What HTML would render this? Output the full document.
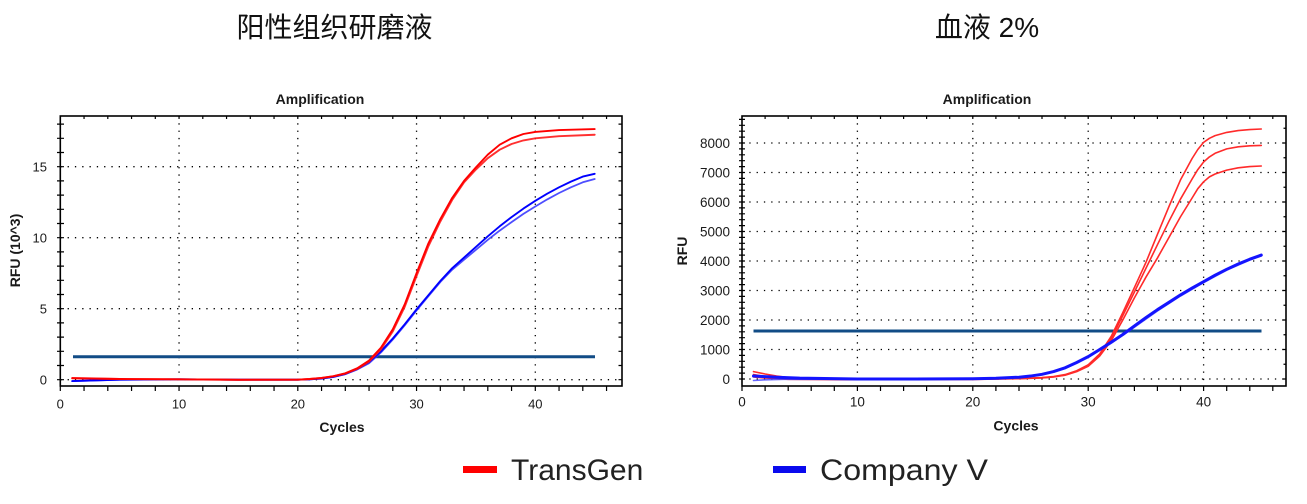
<!DOCTYPE html>
<html><head><meta charset="utf-8"><style>
html,body{margin:0;padding:0;background:#fff;}
svg{display:block;}
</style></head><body>
<svg width="1307" height="504" viewBox="0 0 1307 504" xmlns="http://www.w3.org/2000/svg">
<rect width="1307" height="504" fill="#fff"/>
<!-- Titles -->
<text x="334.5" y="37" font-family="Liberation Sans, Noto Sans CJK SC, sans-serif" font-size="28" text-anchor="middle" fill="#111">阳性组织研磨液</text>
<text x="987" y="37" font-family="Liberation Sans, Noto Sans CJK SC, sans-serif" font-size="28" text-anchor="middle" fill="#111">血液 2%</text>

<g font-family="Liberation Sans, Arial, sans-serif" fill="#1a1a1a">
<text x="320" y="104" font-size="14" font-weight="bold" text-anchor="middle">Amplification</text>
<text x="987" y="104" font-size="14" font-weight="bold" text-anchor="middle">Amplification</text>
<text x="342" y="432" font-size="14" font-weight="bold" text-anchor="middle">Cycles</text>
<text x="1016" y="430.5" font-size="14" font-weight="bold" text-anchor="middle">Cycles</text>
<text transform="translate(20,250.5) rotate(-90)" font-size="14" font-weight="bold" text-anchor="middle">RFU (10^3)</text>
<text transform="translate(687,251) rotate(-90)" font-size="14" font-weight="bold" text-anchor="middle">RFU</text>

<!-- left tick labels -->
<g font-size="13" text-anchor="end">
<text x="47" y="384.4">0</text>
<text x="47" y="313.4">5</text>
<text x="47" y="242.4">10</text>
<text x="47" y="171.4">15</text>
</g>
<g font-size="13" text-anchor="middle">
<text x="60.3" y="408.3">0</text>
<text x="179.05" y="408.3">10</text>
<text x="297.8" y="408.3">20</text>
<text x="416.55" y="408.3">30</text>
<text x="535.3" y="408.3">40</text>
</g>
<!-- right tick labels -->
<g font-size="13.5" text-anchor="end">
<text x="730" y="383.8">0</text>
<text x="730" y="354.3">1000</text>
<text x="730" y="324.8">2000</text>
<text x="730" y="295.3">3000</text>
<text x="730" y="265.8">4000</text>
<text x="730" y="236.3">5000</text>
<text x="730" y="206.8">6000</text>
<text x="730" y="177.3">7000</text>
<text x="730" y="147.8">8000</text>
</g>
<g font-size="13.5" text-anchor="middle">
<text x="742" y="406.7">0</text>
<text x="857.4" y="406.7">10</text>
<text x="972.8" y="406.7">20</text>
<text x="1088.2" y="406.7">30</text>
<text x="1203.6" y="406.7">40</text>
</g>
</g>

<!-- Grids (dotted) -->
<g stroke="#000" stroke-width="1.3" stroke-dasharray="1.3 6" fill="none">
<path d="M179.05 116V386M297.8 116V386M416.55 116V386M535.3 116V386"/>
<path d="M60.3 379.7H622M60.3 308.7H622M60.3 237.7H622M60.3 166.7H622"/>
<path d="M857.4 116V386M972.8 116V386M1088.2 116V386M1203.6 116V386"/>
<path d="M742 379H1286M742 349.5H1286M742 320H1286M742 290.5H1286M742 261H1286M742 231.5H1286M742 202H1286M742 172.5H1286M742 143H1286"/>
</g>

<!-- Frames -->
<g stroke="#000" fill="none">
<rect x="60.3" y="116" width="561.7" height="270" stroke-width="1.6"/>
<rect x="742" y="116" width="544" height="270" stroke-width="1.6"/>
</g>

<!-- Ticks -->
<g stroke="#000" stroke-width="1.2" fill="none">
<path d="M57 379.7H64M57 365.5H64M57 351.3H64M57 337.1H64M57 322.9H64M57 308.7H64M57 294.5H64M57 280.3H64M57 266.1H64M57 251.9H64M57 237.7H64M57 223.5H64M57 209.3H64M57 195.1H64M57 180.9H64M57 166.7H64M57 152.5H64M57 138.3H64M57 124.1H64"/>
<path d="M618.5 379.7H622M618.5 365.5H622M618.5 351.3H622M618.5 337.1H622M618.5 322.9H622M618.5 308.7H622M618.5 294.5H622M618.5 280.3H622M618.5 266.1H622M618.5 251.9H622M618.5 237.7H622M618.5 223.5H622M618.5 209.3H622M618.5 195.1H622M618.5 180.9H622M618.5 166.7H622M618.5 152.5H622M618.5 138.3H622M618.5 124.1H622"/>
<path d="M60.3 386V391M84.05 386V391M107.8 386V391M131.55 386V391M155.3 386V391M179.05 386V391M202.8 386V391M226.55 386V391M250.3 386V391M274.05 386V391M297.8 386V391M321.55 386V391M345.3 386V391M369.05 386V391M392.8 386V391M416.55 386V391M440.3 386V391M464.05 386V391M487.8 386V391M511.55 386V391M535.3 386V391M559.05 386V391M582.8 386V391M606.55 386V391"/>
<path d="M84.05 116V119M107.8 116V119M131.55 116V119M155.3 116V119M179.05 116V119M202.8 116V119M226.55 116V119M250.3 116V119M274.05 116V119M297.8 116V119M321.55 116V119M345.3 116V119M369.05 116V119M392.8 116V119M416.55 116V119M440.3 116V119M464.05 116V119M487.8 116V119M511.55 116V119M535.3 116V119M559.05 116V119M582.8 116V119M606.55 116V119"/>

<path d="M739 379H745M739 373.1H745M739 367.2H745M739 361.3H745M739 355.4H745M739 349.5H745M739 343.6H745M739 337.7H745M739 331.8H745M739 325.9H745M739 320H745M739 314.1H745M739 308.2H745M739 302.3H745M739 296.4H745M739 290.5H745M739 284.6H745M739 278.7H745M739 272.8H745M739 266.9H745M739 261H745M739 255.1H745M739 249.2H745M739 243.3H745M739 237.4H745M739 231.5H745M739 225.6H745M739 219.7H745M739 213.8H745M739 207.9H745M739 202H745M739 196.1H745M739 190.2H745M739 184.3H745M739 178.4H745M739 172.5H745M739 166.6H745M739 160.7H745M739 154.8H745M739 148.9H745M739 143H745M739 137.1H745M739 131.2H745M739 125.3H745M739 119.4H745"/>
<path d="M1282.5 379H1286M1282.5 349.5H1286M1282.5 320H1286M1282.5 290.5H1286M1282.5 261H1286M1282.5 231.5H1286M1282.5 202H1286M1282.5 172.5H1286M1282.5 143H1286M1283.5 364.25H1286M1283.5 334.75H1286M1283.5 305.25H1286M1283.5 275.75H1286M1283.5 246.25H1286M1283.5 216.75H1286M1283.5 187.25H1286M1283.5 157.75H1286M1283.5 128.25H1286"/>
<path d="M742 386V391M765.1 386V391M788.2 386V391M811.2 386V391M834.3 386V391M857.4 386V391M880.5 386V391M903.6 386V391M926.6 386V391M949.7 386V391M972.8 386V391M995.9 386V391M1019 386V391M1042 386V391M1065.1 386V391M1088.2 386V391M1111.3 386V391M1134.4 386V391M1157.4 386V391M1180.5 386V391M1203.6 386V391M1226.7 386V391M1249.8 386V391M1272.8 386V391"/>
<path d="M765.1 116V119M788.2 116V119M811.2 116V119M834.3 116V119M857.4 116V119M880.5 116V119M903.6 116V119M926.6 116V119M949.7 116V119M972.8 116V119M995.9 116V119M1019 116V119M1042 116V119M1065.1 116V119M1088.2 116V119M1111.3 116V119M1134.4 116V119M1157.4 116V119M1180.5 116V119M1203.6 116V119M1226.7 116V119M1249.8 116V119M1272.8 116V119"/>
</g>

<!-- Threshold lines -->
<path d="M73 356.7H595" stroke="#124c86" stroke-width="3" fill="none"/>
<path d="M753.5 331H1261.5" stroke="#124c86" stroke-width="3" fill="none"/>

<!-- Left chart curves -->
<g fill="none" stroke-linejoin="round" stroke-linecap="round">
<polyline stroke="#3b3bff" stroke-width="1.8" opacity="0.9" points="72.2,381.1 119.7,379.7 179.05,379.3 238.4,379.7 297.8,379.7 309.7,379.3 321.55,378.6 333.4,376.9 345.3,374.2 357.2,369.5 369.05,363.2 380.9,352.5 392.8,339.5 404.7,325.3 416.55,310.4 428.4,296.2 440.3,282.0 452.2,269.65 464.05,259.7 475.9,249.8 487.8,239.8 499.7,230.6 511.55,222.1 523.4,213.9 535.3,206.5 547.2,199.4 559.05,193.0 570.9,187.3 582.8,182.3 594.7,179.05"/>
<polyline stroke="#0000ff" stroke-width="1.9" points="72.2,381.1 119.7,379.7 179.05,379.3 238.4,379.7 297.8,379.7 309.7,379.3 321.55,378.6 333.4,376.9 345.3,374.0 357.2,369.05 369.05,362.0 380.9,351.3 392.8,338.5 404.7,324.3 416.55,309.4 428.4,295.2 440.3,281.0 452.2,268.2 464.05,257.6 475.9,246.9 487.8,236.3 499.7,226.3 511.55,217.1 523.4,208.6 535.3,200.8 547.2,193.7 559.05,187.3 570.9,181.6 582.8,176.6 594.7,173.8"/>
<polyline stroke="#ff1a1a" stroke-width="1.9" opacity="0.9" points="72.2,378.0 119.7,379.0 179.05,379.3 238.4,379.9 297.8,379.7 309.7,379.0 321.55,378.0 333.4,376.3 345.3,373.6 357.2,368.9 369.05,361.6 380.9,349.3 392.8,331.3 404.7,306.8 416.55,276.0 428.4,246.2 440.3,221.5 452.2,199.9 464.05,182.3 475.9,169.5 487.8,158.2 499.7,149.7 511.55,144.0 523.4,140.4 535.3,138.3 559.05,136.2 594.7,134.75"/>
<polyline stroke="#ff0000" stroke-width="1.9" points="72.2,378.3 119.7,379.0 179.05,379.3 238.4,379.7 297.8,379.7 309.7,379.0 321.55,378.0 333.4,376.15 345.3,373.3 357.2,368.3 369.05,360.5 380.9,347.75 392.8,329.3 404.7,304.4 416.55,273.2 428.4,243.4 440.3,219.2 452.2,197.9 464.05,180.9 475.9,167.4 487.8,154.6 499.7,144.7 511.55,138.3 523.4,134.0 535.3,131.9 559.05,130.1 594.7,129.1"/>
</g>

<!-- Right chart curves -->
<g fill="none" stroke-linejoin="round" stroke-linecap="round">
<polyline stroke="#ff2a2a" stroke-width="1.6" points="753.5,371.6 765.1,374.0 776.6,376.05 788.2,377.5 811.2,379 857.4,379.6 915.1,379.3 972.8,379 1019.0,378.4 1030.5,378.1 1042.0,377.5 1053.6,376.6 1065.1,374.6 1076.7,370.7 1088.2,364.8 1099.7,353.9 1111.3,336.2 1122.8,312.6 1134.4,287.55 1145.9,262.5 1157.4,234.45 1169.0,206.4 1180.5,179.9 1192.1,158.5 1197.8,149.5 1203.6,142.4 1209.4,138.3 1215.1,135.6 1226.7,132.4 1238.2,130.6 1249.8,129.6 1261.3,129.0"/>
<polyline stroke="#ff2a2a" stroke-width="1.6" points="753.5,374.6 765.1,376.6 788.2,378.4 811.2,379.2 857.4,379.3 915.1,379.5 972.8,379.2 1019.0,378.6 1042.0,377.8 1053.6,376.8 1065.1,374.9 1076.7,371.0 1088.2,365.4 1099.7,354.8 1111.3,338.3 1122.8,315.6 1134.4,292.0 1145.9,268.4 1157.4,244.8 1169.0,221.2 1180.5,199.05 1192.1,179.0 1197.8,169.6 1203.6,162.0 1209.4,156.9 1215.1,153.3 1226.7,148.9 1238.2,146.8 1249.8,145.8 1261.3,145.4"/>
<polyline stroke="#ff2a2a" stroke-width="1.6" points="753.5,377 765.1,378 788.2,379.3 857.4,379.7 915.1,379.2 972.8,379.4 1019.0,378.7 1042.0,378.0 1053.6,376.9 1065.1,375.2 1076.7,371.6 1088.2,366.3 1099.7,356.0 1111.3,340.65 1122.8,320.0 1134.4,297.9 1145.9,277.2 1157.4,258.05 1169.0,237.4 1180.5,216.75 1192.1,198.0 1197.8,188.7 1203.6,181.8 1209.4,176.9 1215.1,174.0 1226.7,170.1 1238.2,167.8 1249.8,166.6 1261.3,166.0"/>
<polyline stroke="#4040ff" stroke-width="1.6" opacity="0.8" points="753.5,380.5 765.1,379.8 788.2,379.2 857.4,379.3 915.1,379.2 972.8,378.9 1019.0,377.5 1042.0,374.8 1065.1,368.5 1088.2,357.5 1111.3,343.2 1134.4,327.2 1157.4,311.0 1180.5,296.0 1203.6,282.6 1226.7,270.2 1249.8,260.0 1261.3,256.0"/>
<polyline stroke="#1414ff" stroke-width="3" points="753.5,376.05 765.1,376.6 776.6,377.2 799.7,378.1 857.4,379 915.1,379 972.8,378.7 995.9,378.3 1019.0,377.2 1030.5,376.05 1042.0,374.3 1053.6,371.6 1065.1,367.8 1076.7,362.5 1088.2,356.6 1099.7,349.5 1111.3,342.1 1122.8,334.5 1134.4,325.9 1145.9,317.6 1157.4,309.7 1169.0,302.3 1180.5,294.9 1192.1,288.1 1203.6,281.65 1215.1,275.2 1226.7,269.3 1238.2,264.0 1249.8,259.2 1261.3,255.1"/>
</g>

<!-- Legend -->
<rect x="463" y="466" width="34" height="7" fill="#ff0000"/>
<text x="511" y="480" font-family="Liberation Sans, Arial, sans-serif" font-size="30" fill="#222">TransGen</text>
<rect x="773" y="466" width="33" height="7" fill="#0a0aee"/>
<text x="820" y="480" font-family="Liberation Sans, Arial, sans-serif" font-size="30" fill="#222" textLength="168" lengthAdjust="spacingAndGlyphs">Company V</text>
</svg>
</body></html>
